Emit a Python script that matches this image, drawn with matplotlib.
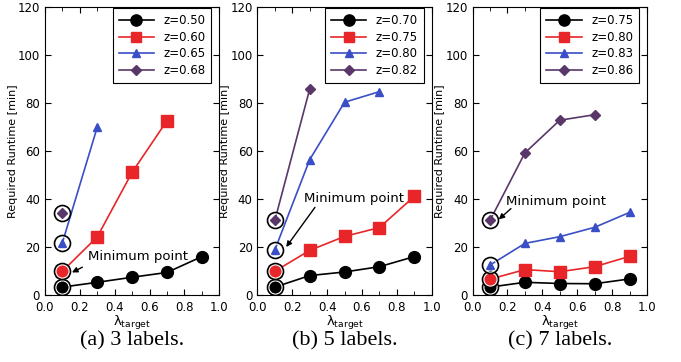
import matplotlib.pyplot as plt
from matplotlib.ticker import MultipleLocator

plt.rcParams["mathtext.default"] = "regular"

lam = [0.1, 0.3, 0.5, 0.7, 0.9]

# (a) 3 labels
z_a = ["0.50", "0.60", "0.65", "0.68"]
y_a = [[3.3, 5.3, 7.4, 9.4, 16.0],
       [9.9, 24.2, 51.1, 72.6],
       [21.8, 69.9],
       [34.0]]

# (b) 5 labels
z_b = ["0.70", "0.75", "0.80", "0.82"]
y_b = [[3.3, 8.1, 9.6, 11.8, 16.0],
       [9.9, 18.6, 24.4, 28.1, 41.1],
       [18.8, 56.4, 80.3, 84.7],
       [31.1, 85.8]]

# (c) 7 labels
z_c = ["0.75", "0.80", "0.83", "0.86"]
y_c = [[3.3, 5.3, 4.8, 4.7, 6.7],
       [6.6, 10.6, 9.7, 11.8, 16.1],
       [12.5, 21.5, 24.3, 28.2, 34.4],
       [31.1, 59.2, 72.8, 75.1]]

captions = ["(a) 3 labels.", "(b) 5 labels.", "(c) 7 labels."]
# (text x, text y, arrow tail x, tail y, head x, head y)
notes = [(0.245, 16.0, 0.215, 11.6, 0.155, 9.4),
         (0.265, 40.0, 0.33, 36.5, 0.165, 20.0),
         (0.19, 39.0, 0.22, 36.0, 0.15, 31.5)]

colors = ["black", "#e8262a", "#3a4ec6", "#5a3769"]
markers = ["o", "s", "^", "D"]
msizes = [8.5, 8, 6, 5.5]

fig = plt.figure(figsize=(6.81, 3.62), dpi=100)
lefts = [0.066, 0.378, 0.694]
axes = [fig.add_axes([l, 0.185, 0.256, 0.796]) for l in lefts]

for ax, zs, ys, cap, nt in zip(axes, [z_a, z_b, z_c], [y_a, y_b, y_c], captions, notes):
    for z, y, c, m, ms in zip(zs, ys, colors, markers, msizes):
        ax.plot(lam[:len(y)], y, color=c, marker=m, ms=ms, lw=1.2,
                mec=c, label="z=" + z)
        ax.plot(lam[0], y[0], marker="o", ms=10, mfc="none", mec="white", mew=1.3)
        ax.plot(lam[0], y[0], marker="o", ms=11.5, mfc="none", mec="black", mew=1.2)
    tx, ty, ax0, ay0, hx, hy = nt
    ax.text(tx, ty, "Minimum point", fontsize=9.5, va="center", ha="left")
    ax.annotate("", xy=(hx, hy), xytext=(ax0, ay0),
                arrowprops=dict(arrowstyle="-|>", color="black", lw=1.0,
                                mutation_scale=8, shrinkA=0, shrinkB=0))
    ax.set_xlim(0, 1.0)
    ax.set_ylim(0, 120)
    ax.xaxis.set_major_locator(MultipleLocator(0.2))
    ax.xaxis.set_minor_locator(MultipleLocator(0.1))
    ax.yaxis.set_major_locator(MultipleLocator(20))
    ax.xaxis.set_major_formatter(plt.FuncFormatter(lambda v, p: f"{v:.1f}"))
    ax.tick_params(which="both", direction="in", top=True, right=True, labelsize=8.5)
    ax.tick_params(axis="x", pad=4.5)
    ax.tick_params(which="major", length=4)
    ax.tick_params(which="minor", length=3)
    ax.set_ylabel("Required Runtime [min]", fontsize=8, labelpad=0)
    ax.set_xlabel(r"$\lambda_{target}$", fontsize=9.5, labelpad=0)
    leg = ax.legend(loc="upper right", bbox_to_anchor=(0.955, 0.995),
                    fontsize=8.5, fancybox=False, framealpha=1,
                    edgecolor="black", borderaxespad=0.0, handlelength=3.0,
                    labelspacing=0.3, borderpad=0.5, markerscale=0.95)
    leg.get_frame().set_linewidth(0.8)
    ax.text(0.5, -0.176, cap, transform=ax.transAxes, ha="center", va="baseline",
            fontsize=16, family="Liberation Serif")

fig.savefig("out.png", dpi=100)
